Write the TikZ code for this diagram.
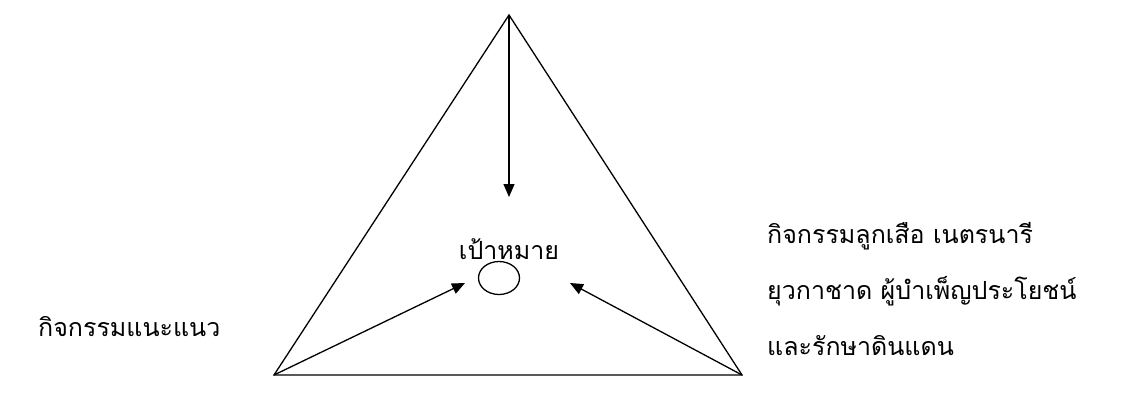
\documentclass[tikz,border=0pt]{standalone}
\usepackage{fontspec}
\newfontfamily\thaifont[Script=Thai]{Loma}
\usetikzlibrary{arrows.meta,shapes.geometric}
\begin{document}
\begin{tikzpicture}[x=1pt,y=-1pt,
  edge/.style={line width=1.3pt},
  arr/.style={line width=1.3pt,-{Triangle[length=13pt,width=11pt]}},
  lbl/.style={font=\thaifont\fontsize{25}{30}\selectfont,inner sep=0pt}]
\useasboundingbox (0,0) rectangle (1122,399);
\coordinate (top) at (509,15);
\coordinate (bl) at (274,375);
\coordinate (br) at (742,375);
\draw[edge,line join=miter] (top) -- (bl) -- (br) -- cycle;
\node[draw,ellipse,line width=1.3pt,minimum width=41pt,minimum height=33pt,inner sep=0pt] (goal) at (499,278) {};
\coordinate (downend) at (509,197);
\coordinate (lend) at (465,283);
\coordinate (rend) at (570,283);
\draw[arr] (top) -- (downend);
\draw[arr] (bl) -- (lend);
\draw[arr] (br) -- (rend);
\node[lbl] (goaltxt) at (509,249) {เป้าหมาย};
\node[lbl,anchor=west] (left) at (38,327) {กิจกรรมแนะแนว};
\node[lbl,anchor=west,align=left] (r1) at (767,236) {กิจกรรมลูกเสือ เนตรนารี};
\node[lbl,anchor=west,align=left] (r2) at (767,291) {ยุวกาชาด ผู้บำเพ็ญประโยชน์};
\node[lbl,anchor=west,align=left] (r3) at (767,346) {และรักษาดินแดน};
\end{tikzpicture}
\end{document}
